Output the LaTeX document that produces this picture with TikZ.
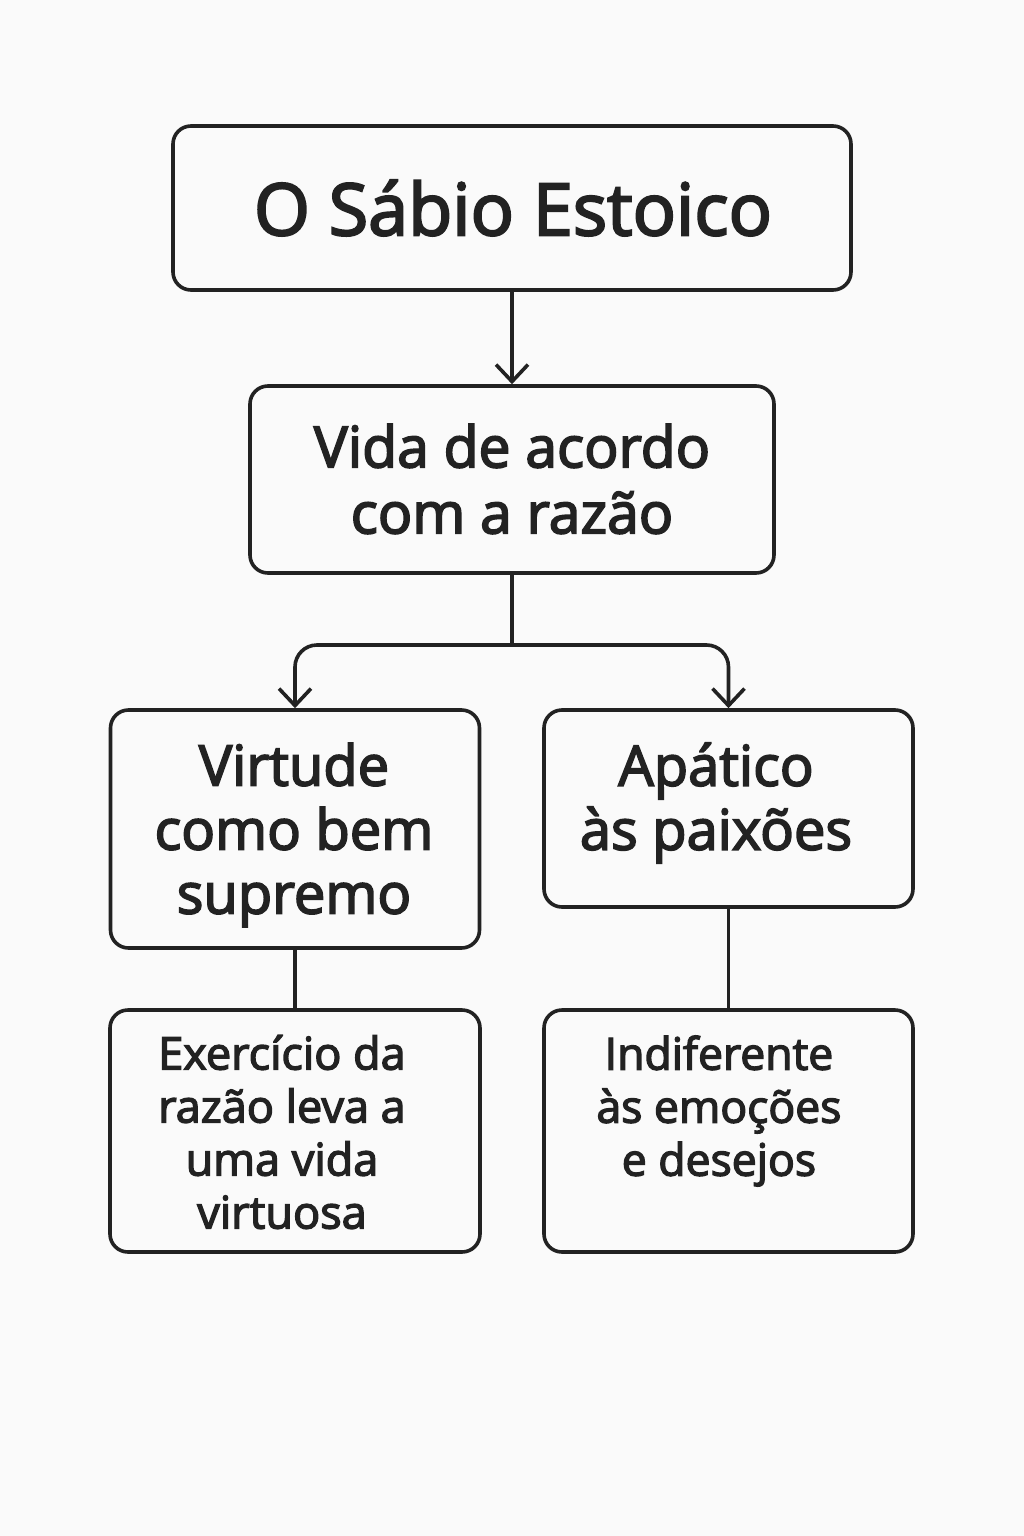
\documentclass[tikz,border=0pt]{standalone}
\usepackage{fontspec}
\setmainfont{Open Sans}[FakeBold=3]
\usetikzlibrary{arrows.meta}
\definecolor{ink}{HTML}{222222}
\definecolor{bg}{HTML}{FAFAFA}
\begin{document}
\begin{tikzpicture}[x=1pt,y=-1pt,
  box/.style={draw=ink, line width=3.6pt, rounded corners=18pt, inner sep=0pt},
  lbl/.style={text=ink, align=center, inner sep=0pt},
  conn/.style={draw=ink, line width=3.6pt},
  arr/.style={conn, -{Straight Barb[length=17pt,width=32pt,line width=3.6pt]}}]
\fill[bg] (0,0) rectangle (1024,1536);
\useasboundingbox (0,0) rectangle (1024,1536);
% boxes
\node[box, minimum width=678pt, minimum height=164pt] (t) at (512,208) {};
\node[box, minimum width=524pt, minimum height=187pt] (b2) at (512,479.5) {};
\node[box, minimum width=369pt, minimum height=238pt] (b3l) at (295,829) {};
\node[box, minimum width=369pt, minimum height=197pt] (b3r) at (728.5,808.5) {};
\node[box, minimum width=370pt, minimum height=242pt] (b4l) at (295,1131) {};
\node[box, minimum width=369pt, minimum height=242pt] (b4r) at (728.5,1131) {};
% texts
\node[lbl, font=\fontsize{72}{80}\selectfont] (tt) at (513,208) {O Sábio Estoico};
\node[lbl, font=\fontsize{57}{66}\selectfont] (t2) at (512,479) {Vida de acordo\\com a razão};
\node[lbl, font=\fontsize{56}{64}\selectfont] (t3l) at (294,835) {Virtude\\como bem\\supremo};
\node[lbl, font=\fontsize{56}{64}\selectfont] (t3r) at (716,803) {Apático\\às paixões};
\node[lbl, font=\fontsize{45}{53}\selectfont] (t4l) at (282,1132) {Exercício da\\razão leva a\\uma vida\\virtuosa};
\node[lbl, font=\fontsize{44.5}{53}\selectfont] (t4r) at (719,1111) {Indiferente\\às emoções\\e desejos};
% connectors
\coordinate (j) at (512,645);
\draw[arr] (t.south) -- (b2.north);
\draw[conn] (b2.south) -- (j);
\draw[arr, rounded corners=22pt] (j) -| (b3l.north);
\draw[arr, rounded corners=22pt] (j) -| (b3r.north);
\draw[conn] (b3l.south) -- (b4l.north);
\draw[conn] (b3r.south) -- (b4r.north);
\end{tikzpicture}
\end{document}
